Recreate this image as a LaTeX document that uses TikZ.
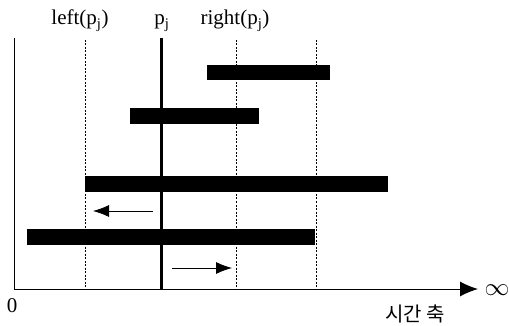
\documentclass[tikz,border=0pt]{standalone}
\usepackage{fontspec}
\setmainfont{Liberation Serif}
\newfontfamily\kr{Noto Sans CJK KR}
\usetikzlibrary{arrows.meta}
\begin{document}
\begin{tikzpicture}[x=1pt,y=-1pt,
  lbl/.style={font=\fontsize{21}{23}\selectfont, anchor=base, inner sep=0pt},
  guide/.style={line width=0.8pt, dash pattern=on 2pt off 1.5pt},
  bar/.style={fill=black, draw=none},
  move/.style={line width=0.8pt, -{Latex[length=16pt,width=12pt]}}]
\useasboundingbox (0,0) rectangle (509,326);
% axes
\coordinate (o) at (14,289);
\coordinate (ytop) at (14,38);
\coordinate (xend) at (478,289);
\draw[line width=1pt] (ytop) -- (o);
\draw[line width=1pt, -{Latex[length=18pt,width=15pt]}] (o) -- (xend);
% vertical guides
\coordinate (lt) at (85,40); \coordinate (lb) at (85,289);
\coordinate (pt) at (161,38); \coordinate (pb) at (161,290);
\coordinate (rt) at (236,40); \coordinate (rb) at (236,289);
\coordinate (ft) at (316,40); \coordinate (fb) at (316,289);
\draw[guide] (lt) -- (lb);
\draw[line width=3pt] (pt) -- (pb);
\draw[guide] (rt) -- (rb);
\draw[guide] (ft) -- (fb);
% labels
\node[lbl] (left) at (80,25) {left(p\textsubscript{j})};
\node[lbl] (pj) at (162,25) {p\textsubscript{j}};
\node[lbl] (right) at (235,25) {right(p\textsubscript{j})};
\node[lbl] (zero) at (12,312) {0};
\node[font=\fontsize{24}{26}\selectfont, inner sep=0pt] (inf) at (497,290) {$\infty$};
\node[lbl, font=\kr\fontsize{20}{22}\selectfont] (time) at (415,321) {시간 축};
% bars
\fill[bar] (207,65) rectangle (330,80);
\fill[bar] (130,108) rectangle (259,124);
\fill[bar] (85,176) rectangle (388,192);
\fill[bar] (27,229) rectangle (315,245);
% arrows
\coordinate (a1s) at (153,211); \coordinate (a1e) at (93,211);
\coordinate (a2s) at (172,268); \coordinate (a2e) at (232,268);
\draw[move] (a1s) -- (a1e);
\draw[move] (a2s) -- (a2e);
\end{tikzpicture}
\end{document}
